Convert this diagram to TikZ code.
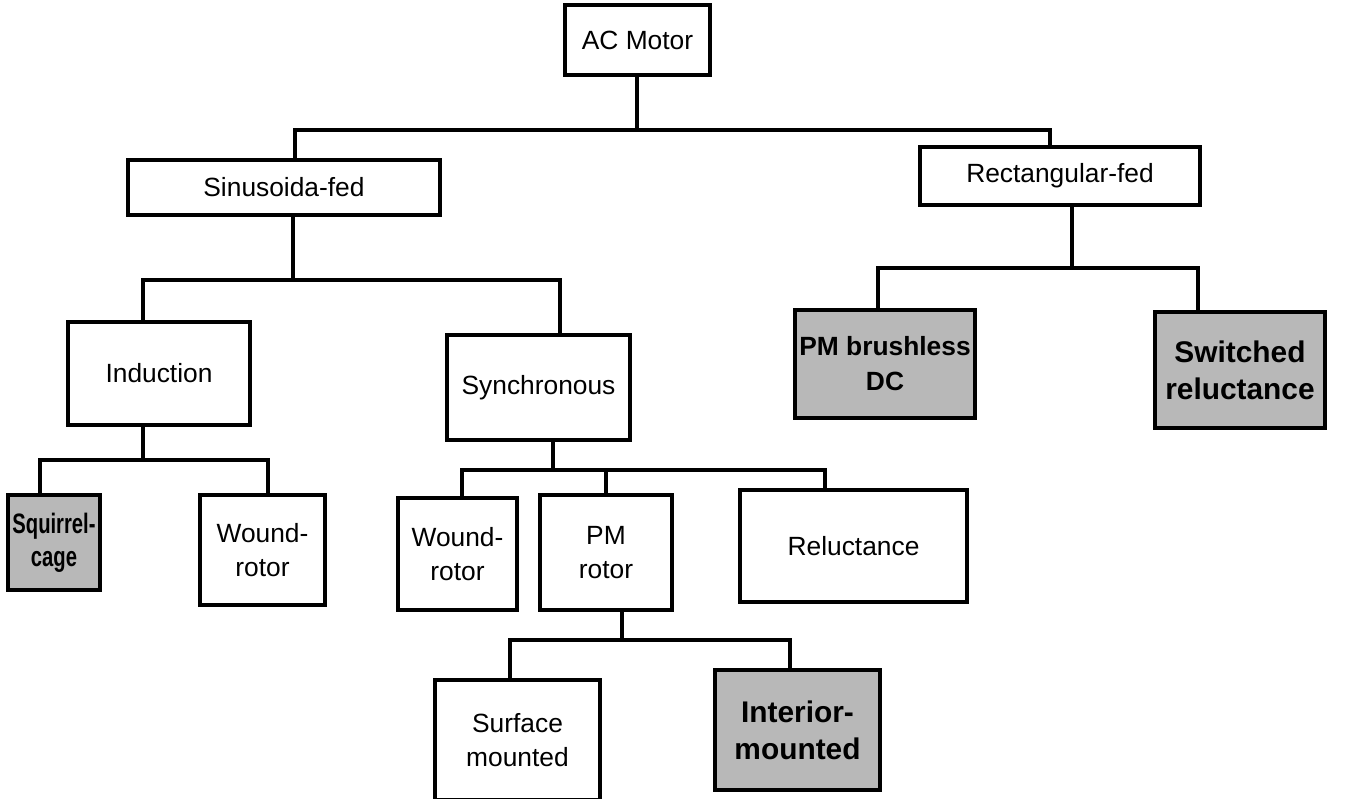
\documentclass[tikz,border=0pt]{standalone}
\usepackage{fontspec}
\setmainfont{Liberation Sans}
\newfontfamily\narrowsans[FakeStretch=0.72]{Liberation Sans}
\usepackage{xcolor}
\usepackage{tikz}

\begin{document}
\begin{tikzpicture}[x=0.02cm, y=-0.02cm, line width=2pt,
    box/.style={rectangle, draw, fill=white, align=center, inner sep=0pt, font=\fontsize{15}{19}\selectfont},
    shaded/.style={box, fill=black!28, font=\fontsize{16}{20}\selectfont\bfseries}]

    \useasboundingbox (0,0) rectangle (1362,798);

    \node[box, minimum width=2.9cm, minimum height=1.4cm] (acm) at (637.5,40) {AC Motor};
    \node[box, minimum width=6.24cm, minimum height=1.1cm] (sin) at (284,187.5) {Sinusoida-fed};
    \node[box, minimum width=5.6cm, minimum height=1.16cm] (rect) at (1060,176) {Rectangular-fed};
    \node[box, minimum width=3.64cm, minimum height=2.06cm] (ind) at (159,373.5) {Induction};
    \node[box, minimum width=3.66cm, minimum height=2.1cm] (syn) at (538.5,387.5) {Synchronous};
    \node[shaded, minimum width=3.6cm, minimum height=2.16cm, font=\fontsize{15}{20}\selectfont\bfseries] (pmb) at (885,364) {PM brushless\\DC};
    \node[shaded, minimum width=3.4cm, minimum height=2.32cm, font=\fontsize{17}{21}\selectfont\bfseries] (swr) at (1240,370) {Switched\\reluctance};
    \node[shaded, minimum width=1.84cm, minimum height=1.9cm, font=\fontsize{16}{19}\narrowsans\bfseries] (sqc) at (54,542.5) {Squirrel-\\cage};
    \node[box, minimum width=2.5cm, minimum height=2.2cm] (wr1) at (262.5,550) {Wound-\\rotor};
    \node[box, minimum width=2.38cm, minimum height=2.24cm] (wr2) at (457.5,554) {Wound-\\rotor};
    \node[box, minimum width=2.64cm, minimum height=2.3cm] (pmr) at (606,552.5) {PM\\rotor};
    \node[box, minimum width=4.54cm, minimum height=2.24cm] (rel) at (853.5,546) {Reluctance};
    \node[box, minimum width=3.3cm, minimum height=2.4cm] (sfm) at (517.5,740) {Surface\\mounted};
    \node[shaded, minimum width=3.3cm, minimum height=2.4cm, font=\fontsize{17}{21}\selectfont\bfseries] (int) at (797.5,730) {Interior-\\mounted};

    \coordinate (b1a) at (295,130);
    \coordinate (b1b) at (637,130);
    \coordinate (b1c) at (1050,130);
    \draw (acm.south -| b1b) -- (b1b);
    \draw (sin.north -| b1a) -- (b1a) -- (b1c) -- (rect.north -| b1c);

    \coordinate (b2a) at (143,280);
    \coordinate (b2b) at (293,280);
    \coordinate (b2c) at (560,280);
    \draw (sin.south -| b2b) -- (b2b);
    \draw (ind.north -| b2a) -- (b2a) -- (b2c) -- (syn.north -| b2c);

    \coordinate (b3a) at (878,268);
    \coordinate (b3b) at (1072,268);
    \coordinate (b3c) at (1198,268);
    \draw (rect.south -| b3b) -- (b3b);
    \draw (pmb.north -| b3a) -- (b3a) -- (b3c) -- (swr.north -| b3c);

    \coordinate (b4a) at (40,460);
    \coordinate (b4b) at (143,460);
    \coordinate (b4c) at (268,460);
    \draw (ind.south -| b4b) -- (b4b);
    \draw (sqc.north -| b4a) -- (b4a) -- (b4c) -- (wr1.north -| b4c);

    \coordinate (b5a) at (462,470);
    \coordinate (b5b) at (553,470);
    \coordinate (b5c) at (606,470);
    \coordinate (b5d) at (825,470);
    \draw (syn.south -| b5b) -- (b5b);
    \draw (wr2.north -| b5a) -- (b5a) -- (b5d) -- (rel.north -| b5d);
    \draw (pmr.north -| b5c) -- (b5c);

    \coordinate (b6a) at (510,640);
    \coordinate (b6b) at (622,640);
    \coordinate (b6c) at (790,640);
    \draw (pmr.south -| b6b) -- (b6b);
    \draw (sfm.north -| b6a) -- (b6a) -- (b6c) -- (int.north -| b6c);
\end{tikzpicture}
\end{document}
